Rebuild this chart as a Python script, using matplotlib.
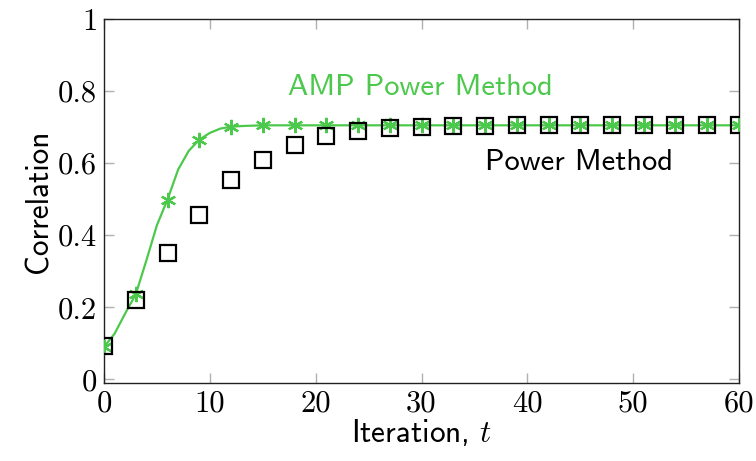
import numpy as np
import matplotlib
matplotlib.use('Agg')
from matplotlib import pyplot as plt

plt.rcParams['mathtext.fontset'] = 'cm'

# theory curve (AMP power method), read at integer iterations
t_curve = [0, 1, 2, 3, 4, 5, 6, 7, 8, 9, 10, 11, 12, 13, 14, 15, 16, 60]
amp_curve = [0.090, 0.127, 0.183, 0.236, 0.330, 0.428, 0.499, 0.582, 0.634,
             0.665, 0.684, 0.696, 0.701, 0.703, 0.704, 0.705, 0.705, 0.705]

# markers every 3 iterations
t_marks = list(range(0, 61, 3))
amp_marks = [0.090, 0.236, 0.499, 0.665, 0.701, 0.705, 0.705, 0.705, 0.705,
             0.705, 0.705, 0.705, 0.705, 0.705, 0.705, 0.705, 0.705, 0.705,
             0.705, 0.705, 0.705]
power = [0.092, 0.221, 0.352, 0.455, 0.553, 0.609, 0.651, 0.676, 0.690,
         0.697, 0.701, 0.703, 0.704, 0.705, 0.705, 0.705, 0.705, 0.705,
         0.705, 0.705, 0.705]

green = '#4cc94c'
asterisk = (6, 2, 0)

fig = plt.figure(figsize=(7.56, 4.61), dpi=100)
ax = fig.add_axes([0.1376, 0.1692, 0.8399, 0.7896])

ax.plot(t_curve, amp_curve, color=green, lw=1.6, zorder=2)
ax.plot(t_marks, amp_marks, ls='none', marker=asterisk, ms=11, mew=1.6,
        color=green, zorder=3)
ax.plot(t_marks, power, ls='none', marker='s', ms=11.5, mew=1.6,
        mfc='none', mec='black', zorder=4)

ax.set_xlim(0, 60)
ax.set_ylim(-0.01, 1.0)
ax.set_xticks(range(0, 61, 10))
ax.set_yticks([0, 0.2, 0.4, 0.6, 0.8, 1.0])
ax.set_xticklabels(['0', '10', '20', '30', '40', '50', '60'])
ax.set_yticklabels(['0', '0.2', '0.4', '0.6', '0.8', '1'])
ax.tick_params(direction='in', length=7, width=1, color='#b0b0b0',
               top=True, right=True, labelsize=22, pad=5)
for lab in ax.get_xticklabels() + ax.get_yticklabels():
    lab.set_family('cmr10')
for s in ax.spines.values():
    s.set_linewidth(1.0)
    s.set_color('#222222')

ax.set_xlabel(r'Iteration, $t$', family='cmss10', fontsize=22.5, labelpad=0)
ax.set_ylabel('Correlation', family='cmss10', fontsize=22.5, labelpad=3)

ax.text(29.9, 0.81, 'AMP Power Method', family='cmss10', fontsize=22,
        color=green, ha='center', va='center')
ax.text(44.9, 0.603, 'Power Method', family='cmss10', fontsize=22,
        color='black', ha='center', va='center')

fig.savefig('out.png', dpi=100)
